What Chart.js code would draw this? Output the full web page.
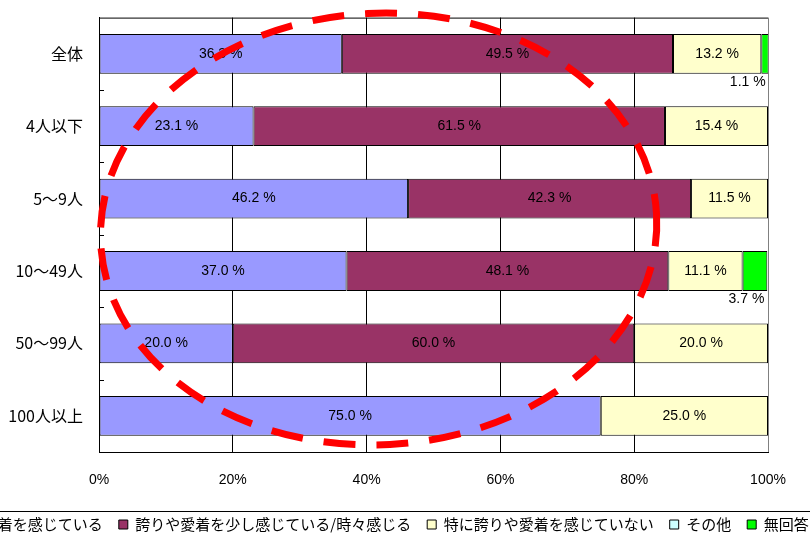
<!DOCTYPE html>
<html>
<head>
<meta charset="utf-8">
<script src="https://cdn.jsdelivr.net/npm/chart.js@4.4.1/dist/chart.umd.min.js"></script>
<style>
    html, body { margin: 0; padding: 0; background: #fff; overflow: hidden; width: 810px; height: 534px; }
    .chart-wrap { position: absolute; left: -135px; top: 0; width: 1000px; height: 542px; }
</style>
</head>
<body>
<div class="chart-wrap"><canvas class="pride-chart" width="1000" height="542"></canvas></div>
<script>
var categories = ['全体', '4人以下', '5～9人', '10～49人', '50～99人', '100人以上'];
var seriesNames = ['誇りや愛着を感じている', '誇りや愛着を少し感じている/時々感じる', '特に誇りや愛着を感じていない', 'その他', '無回答'];
var proud = [36.3, 23.1, 46.2, 37.0, 20.0, 75.0];
var somewhat = [49.5, 61.5, 42.3, 48.1, 60.0, 0];
var notProud = [13.2, 15.4, 11.5, 11.1, 20.0, 25.0];
var other = [0, 0, 0, 0, 0, 0];
var noAnswer = [1.1, 0, 0, 3.7, 0, 0];
var xTicks = [0, 20, 40, 60, 80, 100];

(function () {

    var colors = ['#9999FF', '#993366', '#FFFFCC', '#CCFFFF', '#00FF00'];
    var narrowFont = '"Liberation Sans Narrow", "Liberation Sans", Arial, sans-serif';
    var jpFont = '"Noto Sans CJK JP", "Noto Sans", sans-serif';
    var legendPadding = 16;

    // Red dashed ring drawn over the chart, in axis units (x: %, y: category index).
    var ring = {cx: 41.8, cy: 2.42, rx: 41.6, ry: 2.98, tilt: -3};

    /**
     * Percent labels inside segments, the small "no answer" ones below the bar.
     */
    var valueLabels = {
        id: 'valueLabels',
        afterDatasetsDraw: function (chart) {
            var ctx = chart.ctx;
            ctx.save();
            ctx.font = '14px ' + narrowFont;
            ctx.fillStyle = '#000';
            ctx.textBaseline = 'middle';
            chart.data.datasets.forEach(function (ds, di) {
                chart.getDatasetMeta(di).data.forEach(function (bar, i) {
                    var v = ds.data[i];
                    if (!v) {
                        return;
                    }
                    var text = v.toFixed(1) + ' %';
                    if (di === 4) {
                        ctx.textAlign = 'right';
                        ctx.fillText(text, bar.x - 3, bar.y + bar.height / 2 + 8);
                    } else {
                        ctx.textAlign = 'center';
                        ctx.fillText(text, (bar.base + bar.x) / 2, bar.y);
                    }
                });
            });
            ctx.restore();
        }
    };

    /**
     * Plot frame: top line and short inner ticks between categories.
     */
    var frame = {
        id: 'frame',
        beforeDatasetsDraw: function (chart) {
            var ctx = chart.ctx;
            var area = chart.chartArea;
            var y = chart.scales.y;
            ctx.save();
            ctx.strokeStyle = '#000';
            ctx.lineWidth = 1;
            ctx.beginPath();
            ctx.moveTo(area.left, area.top + 0.5);
            ctx.lineTo(area.right, area.top + 0.5);
            for (var i = 1; i < categories.length; i++) {
                var py = Math.round(y.getPixelForValue(i - 0.5)) + 0.5;
                ctx.moveTo(area.left, py);
                ctx.lineTo(area.left + 5, py);
            }
            ctx.stroke();
            ctx.restore();
        },
        afterDraw: function (chart) {
            var ctx = chart.ctx;
            var x = chart.scales.x;
            var y = chart.scales.y;
            var cx = x.getPixelForValue(ring.cx);
            var rx = x.getPixelForValue(ring.cx + ring.rx) - cx;
            var cy = y.getPixelForValue(ring.cy);
            var ry = y.getPixelForValue(ring.cy + ring.ry) - cy;

            ctx.save();
            // Line above the legend.
            var ly = Math.round(chart.legend.top + legendPadding / 2 + 2) + 0.5;
            ctx.strokeStyle = '#000';
            ctx.lineWidth = 1;
            ctx.beginPath();
            ctx.moveTo(0, ly);
            ctx.lineTo(chart.width, ly);
            ctx.stroke();

            ctx.strokeStyle = '#FF0000';
            ctx.lineWidth = 7;
            ctx.setLineDash([32, 21]);
            ctx.beginPath();
            ctx.ellipse(cx, cy, rx, ry, ring.tilt * Math.PI / 180, 0, Math.PI * 2);
            ctx.stroke();
            ctx.restore();
        }
    };

    var series = [proud, somewhat, notProud, other, noAnswer];

    new Chart(document.querySelector('.pride-chart'), {
        type: 'bar',
        data: {
            labels: categories,
            datasets: series.map(function (values, i) {
                return {
                    label: seriesNames[i],
                    data: values,
                    backgroundColor: colors[i],
                    borderColor: '#000',
                    borderWidth: 1,
                    borderSkipped: false,
                    barPercentage: 0.55,
                    categoryPercentage: 1
                };
            })
        },
        options: {
            indexAxis: 'y',
            responsive: false,
            animation: false,
            layout: {autoPadding: false, padding: {top: 15, left: 0, right: 0, bottom: 0}},
            scales: {
                x: {
                    stacked: true,
                    min: 0,
                    max: 100,
                    afterBuildTicks: function (scale) {
                        scale.ticks = xTicks.map(function (v) {
                            return {value: v};
                        });
                    },
                    afterFit: function (scale) {
                        scale.height = 49;
                    },
                    grid: {
                        color: function (c) {
                            return c.tick && c.tick.value === 100 ? '#808080' : '#000';
                        },
                        drawTicks: false
                    },
                    border: {color: '#000'},
                    ticks: {
                        padding: 20,
                        color: '#000',
                        font: {family: narrowFont, size: 14},
                        callback: function (v) {
                            return v + '%';
                        }
                    }
                },
                y: {
                    stacked: true,
                    afterFit: function (scale) {
                        scale.width = 234;
                    },
                    grid: {display: false},
                    border: {color: '#000'},
                    ticks: {
                        padding: 8,
                        color: '#000',
                        font: {family: jpFont, size: 16}
                    }
                },
                spacer: {
                    type: 'linear',
                    position: 'right',
                    display: true,
                    afterFit: function (scale) {
                        scale.width = 97;
                    },
                    grid: {display: false},
                    border: {display: false},
                    ticks: {display: false}
                }
            },
            plugins: {
                tooltip: {enabled: false},
                legend: {
                    position: 'bottom',
                    labels: {
                        boxWidth: 9,
                        boxHeight: 9,
                        padding: legendPadding,
                        color: '#000',
                        font: {family: jpFont, size: 15}
                    }
                }
            }
        },
        plugins: [valueLabels, frame]
    });

}());
</script>
</body>
</html>
